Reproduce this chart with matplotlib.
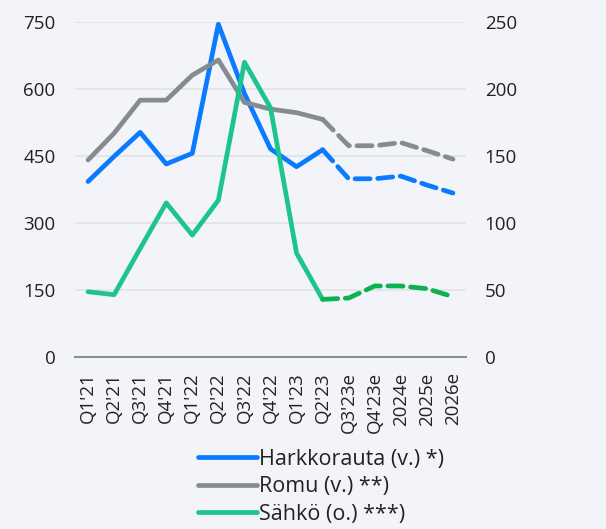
import matplotlib
matplotlib.use("Agg")
import matplotlib.pyplot as plt
import numpy as np

plt.rcParams['font.family'] = ['Open Sans', 'DejaVu Sans']

categories = ["Q1'21", "Q2'21", "Q3'21", "Q4'21", "Q1'22", "Q2'22", "Q3'22", "Q4'22",
              "Q1'23", "Q2'23", "Q3'23e", "Q4'23e", "2024e", "2025e", "2026e"]
harkkorauta = [393, 449, 503, 432, 456, 745, 590, 466, 426, 464, 399, 399, 405, 385, 367]
romu = [441, 501, 575, 575, 631, 665, 570, 555, 547, 532, 473, 473, 480, 462, 443]
sahko = [48.7, 46.5, 81, 115, 91, 117, 220, 186, 77.5, 43, 44, 53, 53, 51, 45]
left_ticks = [0, 150, 300, 450, 600, 750]
right_ticks = [0, 50, 100, 150, 200, 250]
split = 9  # last actual index (Q2'23)

bg = '#f3f4f9'
blue = '#0a7bff'
gray = '#868b8f'
green = '#1dc58c'
green_d = '#0db14f'
txt = '#222222'

fig = plt.figure(figsize=(6.06, 5.29), dpi=100, facecolor=bg)
ax = fig.add_axes([75/606, 1-357/529, (466-75)/606, (357-22)/529])
ax.set_facecolor(bg)
ax2 = ax.twinx()

x = np.arange(len(categories))
lw = 3.4
dash = (3.2, 1.6)

def plot_series(a, y, c, cd, label):
    a.plot(x[:split+1], y[:split+1], color=c, lw=lw, solid_capstyle='round',
           solid_joinstyle='round', label=label, zorder=3)
    a.plot(x[split:], y[split:], color=cd, lw=lw, dashes=dash,
           dash_capstyle='round', dash_joinstyle='round', zorder=3)

plot_series(ax, harkkorauta, blue, blue, 'Harkkorauta (v.) *)')
plot_series(ax, romu, gray, gray, 'Romu (v.) **)')
plot_series(ax2, sahko, green, green_d, 'Sähkö (o.) ***)')

ax.set_ylim(0, 750)
ax2.set_ylim(0, 250)
ax.set_xlim(-0.5, len(categories) - 0.5)
ax.set_yticks(left_ticks)
ax2.set_yticks(right_ticks)
ax.set_xticks(x)
ax.set_xticklabels(categories, rotation=90, fontsize=12.5, color=txt)
ax.tick_params(axis='both', length=0, labelsize=13.5, colors=txt)
ax.tick_params(axis='y', pad=14)
ax.tick_params(axis='x', pad=11)
ax2.tick_params(axis='y', length=0, labelsize=13.5, colors=txt, pad=13.5)
ax.grid(axis='y', color='#e2e3e8', lw=1.2)
ax.set_axisbelow(True)
for s in ['top', 'left', 'right']:
    ax.spines[s].set_visible(False)
    ax2.spines[s].set_visible(False)
ax.spines['bottom'].set_color('#8a9095')
ax.spines['bottom'].set_linewidth(1.5)
ax2.spines['bottom'].set_visible(False)

h1, l1 = ax.get_legend_handles_labels()
h2, l2 = ax2.get_legend_handles_labels()
leg = fig.legend(h1 + h2, l1 + l2, loc='lower left', bbox_to_anchor=(183/606, -11/529),
                 frameon=False, fontsize=15.5, handlelength=2.75, handletextpad=0.1,
                 labelspacing=0.3, borderpad=0.2)
for t in leg.get_texts():
    t.set_color(txt)

fig.savefig('out.png', dpi=100, facecolor=bg)
